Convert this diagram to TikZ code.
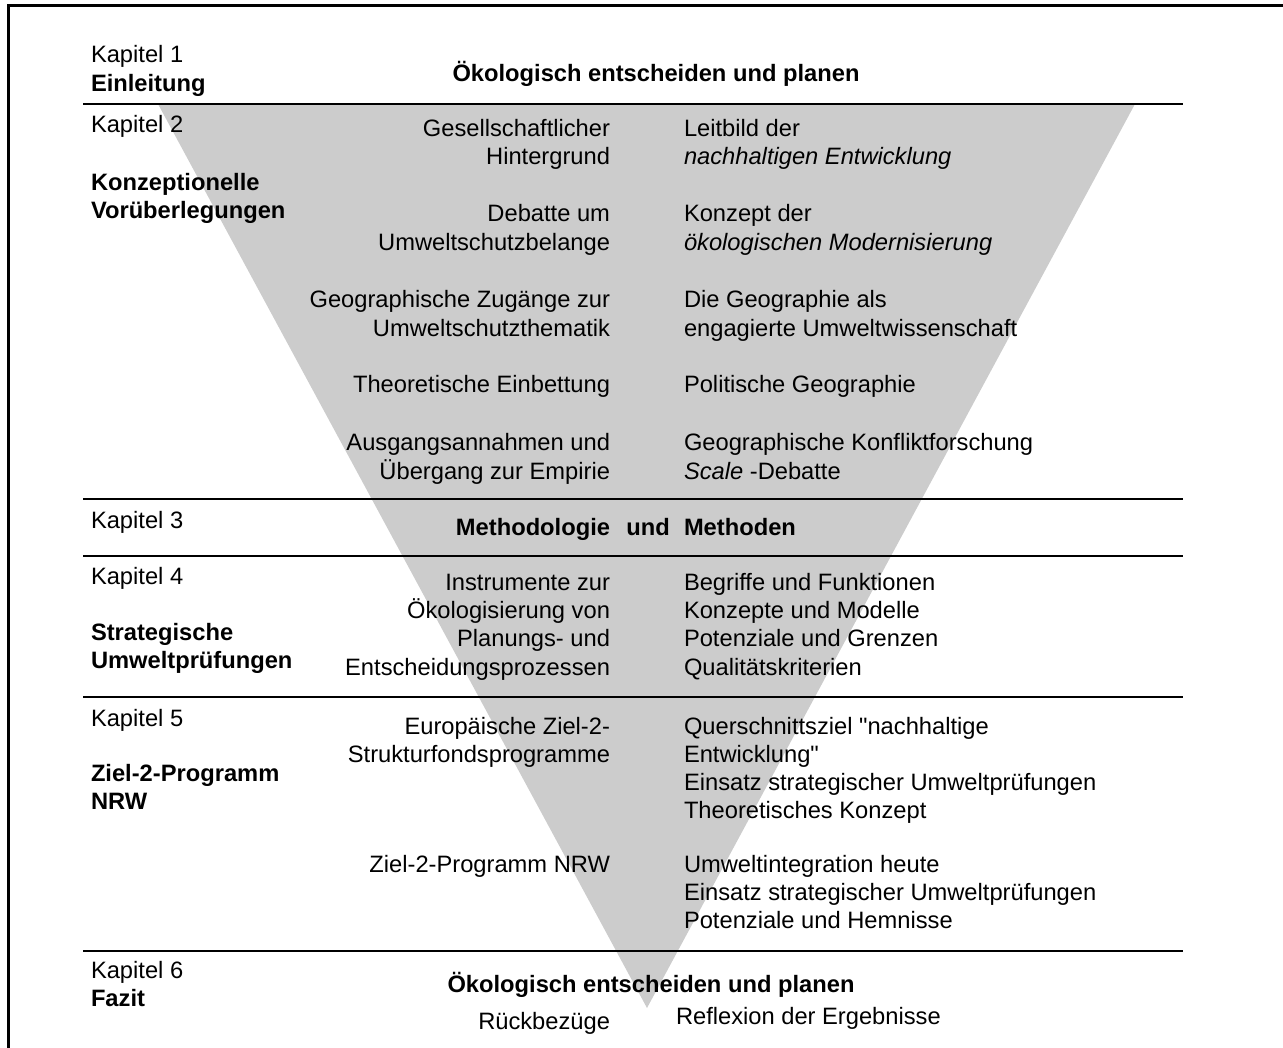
\documentclass[tikz,border=0pt]{standalone}
\usepackage{fontspec}
\setmainfont{Liberation Sans}
% same face without the TeX quote mapping, for straight double quotes
\newfontfamily\plainquote{Liberation Sans}
\newcommand{\sq}{{\plainquote"}}
\definecolor{funnel}{gray}{0.8}
\tikzset{
  txt/.style={inner sep=0pt, outer sep=0pt, font=\fontsize{23.7}{28}\selectfont},
  lcol/.style={txt, anchor=base west},
  mcol/.style={txt, anchor=base east},
  rcol/.style={txt, anchor=base west},
  ccol/.style={txt, anchor=base},
  rule/.style={line width=1.5pt, black},
  frame/.style={line width=3pt, black}
}
\begin{document}
\begin{tikzpicture}[x=1pt, y=-1pt]
\useasboundingbox (0,0) rectangle (1283,1048);

% funnel
\fill[funnel] (158,104) -- (1135,104) -- (647,1008) -- cycle;

% outer frame (open to the right and bottom)
\draw[frame] (8.5,1052) -- (8.5,5.5) -- (1290,5.5);

% chapter separators
\coordinate (s1a) at (83,104);  \coordinate (s1b) at (1183,104);
\coordinate (s2a) at (83,499);  \coordinate (s2b) at (1183,499);
\coordinate (s3a) at (83,556);  \coordinate (s3b) at (1183,556);
\coordinate (s4a) at (83,697);  \coordinate (s4b) at (1183,697);
\coordinate (s5a) at (83,951);  \coordinate (s5b) at (1183,951);
\draw[rule] (s1a) -- (s1b);
\draw[rule] (s2a) -- (s2b);
\draw[rule] (s3a) -- (s3b);
\draw[rule] (s4a) -- (s4b);
\draw[rule] (s5a) -- (s5b);

% chapter column
\node[lcol] (k1)  at (91,63)   {Kapitel 1};
\node[lcol] (k1b) at (91,92)   {\textbf{Einleitung}};
\node[lcol] (k2)  at (91,133)  {Kapitel 2};
\node[lcol] (k2b) at (91,191)  {\textbf{Konzeptionelle}};
\node[lcol] (k2c) at (91,219)  {\textbf{Vorüberlegungen}};
\node[lcol] (k3)  at (91,529)  {Kapitel 3};
\node[lcol] (k4)  at (91,584)  {Kapitel 4};
\node[lcol] (k4b) at (91,640)  {\textbf{Strategische}};
\node[lcol] (k4c) at (91,668)  {\textbf{Umweltprüfungen}};
\node[lcol] (k5)  at (91,726)  {Kapitel 5};
\node[lcol] (k5b) at (91,781)  {\textbf{Ziel-2-Programm}};
\node[lcol] (k5c) at (91,809)  {\textbf{NRW}};
\node[lcol] (k6)  at (91,978)  {Kapitel 6};
\node[lcol] (k6b) at (91,1006) {\textbf{Fazit}};

% headline
\node[ccol] (t1) at (656,82) {\textbf{Ökologisch entscheiden und planen}};

% chapter 2
\node[mcol] (m1)  at (610,137) {Gesellschaftlicher};
\node[mcol] (m2)  at (610,165) {Hintergrund};
\node[mcol] (m3)  at (610,222) {Debatte um};
\node[mcol] (m4)  at (610,251) {Umweltschutzbelange};
\node[mcol] (m5)  at (610,308) {Geographische Zugänge zur};
\node[mcol] (m6)  at (610,337) {Umweltschutzthematik};
\node[mcol] (m7)  at (610,393) {Theoretische Einbettung};
\node[mcol] (m8)  at (610,450) {Ausgangsannahmen und};
\node[mcol] (m9)  at (610,479) {Übergang zur Empirie};
\node[rcol] (r1)  at (684,137) {Leitbild der};
\node[rcol] (r2)  at (684,165) {\textit{nachhaltigen Entwicklung}};
\node[rcol] (r3)  at (684,222) {Konzept der};
\node[rcol] (r4)  at (684,251) {\textit{ökologischen Modernisierung}};
\node[rcol] (r5)  at (684,308) {Die Geographie als};
\node[rcol] (r6)  at (684,337) {engagierte Umweltwissenschaft};
\node[rcol] (r7)  at (684,393) {Politische Geographie};
\node[rcol] (r8)  at (684,450) {Geographische Konfliktforschung};
\node[rcol] (r9)  at (684,479) {\textit{Scale} -Debatte};

% chapter 3
\node[mcol] (m10) at (610,535) {\textbf{Methodologie}};
\node[ccol] (c10) at (648,535) {\textbf{und}};
\node[rcol] (r10) at (684,535) {\textbf{Methoden}};

% chapter 4
\node[mcol] (m11) at (610,590) {Instrumente zur};
\node[mcol] (m12) at (610,618) {Ökologisierung von};
\node[mcol] (m13) at (610,646) {Planungs- und};
\node[mcol] (m14) at (610,675) {Entscheidungsprozessen};
\node[rcol] (r11) at (684,590) {Begriffe und Funktionen};
\node[rcol] (r12) at (684,618) {Konzepte und Modelle};
\node[rcol] (r13) at (684,646) {Potenziale und Grenzen};
\node[rcol] (r14) at (684,675) {Qualitätskriterien};

% chapter 5
\node[mcol] (m15) at (610,734) {Europäische Ziel-2-};
\node[mcol] (m16) at (610,762) {Strukturfondsprogramme};
\node[mcol] (m17) at (610,872) {Ziel-2-Programm NRW};
\node[rcol] (r15) at (684,734) {Querschnittsziel \sq nachhaltige};
\node[rcol] (r16) at (684,762) {Entwicklung\sq};
\node[rcol] (r17) at (684,790) {Einsatz strategischer Umweltprüfungen};
\node[rcol] (r18) at (684,818) {Theoretisches Konzept};
\node[rcol] (r19) at (684,872) {Umweltintegration heute};
\node[rcol] (r20) at (684,900) {Einsatz strategischer Umweltprüfungen};
\node[rcol] (r21) at (684,928) {Potenziale und Hemnisse};

% chapter 6
\node[ccol] (t2)  at (651,992)  {\textbf{Ökologisch entscheiden und planen}};
\node[mcol] (m22) at (610,1029) {Rückbezüge};
\node[rcol] (r22) at (676,1024) {Reflexion der Ergebnisse};
\end{tikzpicture}
\end{document}
